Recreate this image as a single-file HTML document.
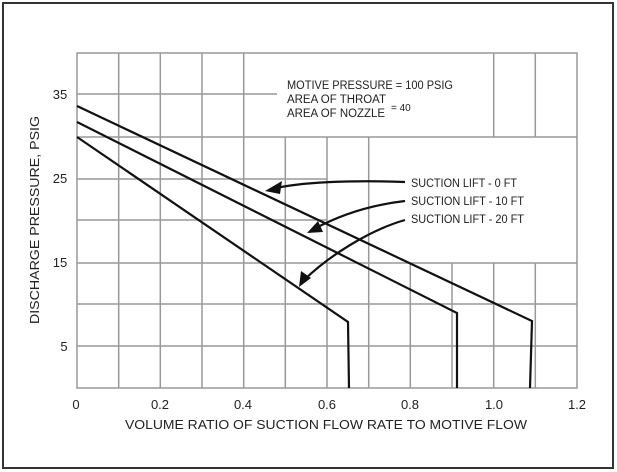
<!DOCTYPE html>
<html><head><style>body{margin:0;background:#fff}svg{display:block}</style></head><body>
<svg width="617" height="472" xmlns="http://www.w3.org/2000/svg" font-family="Liberation Sans, sans-serif">
<rect x="3" y="3" width="610" height="465" fill="#fff" stroke="#333" stroke-width="2"/>
<g stroke="#999" stroke-width="1.5" fill="none">
<line x1="118.7" y1="53" x2="118.7" y2="388"/>
<line x1="160.3" y1="53" x2="160.3" y2="388"/>
<line x1="202" y1="53" x2="202" y2="388"/>
<line x1="243.7" y1="53" x2="243.7" y2="388"/>
<line x1="285.3" y1="137" x2="285.3" y2="388"/>
<line x1="327" y1="137" x2="327" y2="388"/>
<line x1="368.7" y1="137" x2="368.7" y2="388"/>
<line x1="410.3" y1="263" x2="410.3" y2="388"/>
<line x1="452" y1="263" x2="452" y2="388"/>
<line x1="493.7" y1="53" x2="493.7" y2="137"/>
<line x1="493.7" y1="263" x2="493.7" y2="388"/>
<line x1="535.3" y1="53" x2="535.3" y2="137"/>
<line x1="535.3" y1="263" x2="535.3" y2="388"/>
<line x1="77" y1="94" x2="277" y2="94"/>
<line x1="77" y1="137" x2="577" y2="137"/>
<line x1="77" y1="179" x2="327" y2="179"/>
<line x1="77" y1="220" x2="327" y2="220"/>
<line x1="77" y1="263" x2="577" y2="263"/>
<line x1="77" y1="304" x2="577" y2="304"/>
<line x1="77" y1="346" x2="577" y2="346"/>
<rect x="77" y="53" width="500" height="335"/>
</g>
<g stroke="#111" stroke-width="2.2" fill="none">
<polyline points="77,106 532,321 530,388"/>
<polyline points="77,122 457,313 457,388"/>
<polyline points="77,137 348,322 349,388"/>
<path d="M405,182 C350,180 300,182 272,189"/>
<path d="M405,201 C370,205 340,215 314,229"/>
<path d="M405,220 C370,230 330,255 304,280"/>
</g>
<g fill="#111">
<polygon points="265,191 282,181 280,194"/>
<polygon points="307,233 318,221 323,232"/>
<polygon points="299,287 301,271 311,278"/>
</g>
<g font-size="11.5" fill="#222">
<text x="287" y="89" textLength="166" lengthAdjust="spacingAndGlyphs">MOTIVE PRESSURE = 100 PSIG</text>
<text x="287" y="103" textLength="99" lengthAdjust="spacingAndGlyphs">AREA OF THROAT</text>
<text x="287" y="117" textLength="98" lengthAdjust="spacingAndGlyphs">AREA OF NOZZLE</text>
<text x="391" y="111" font-size="10">= 40</text>
<text x="411" y="187" textLength="106" lengthAdjust="spacingAndGlyphs">SUCTION LIFT - 0 FT</text>
<text x="411" y="205" textLength="113" lengthAdjust="spacingAndGlyphs">SUCTION LIFT - 10 FT</text>
<text x="411" y="223" textLength="113" lengthAdjust="spacingAndGlyphs">SUCTION LIFT - 20 FT</text>
</g>
<g font-size="13" fill="#222" text-anchor="middle">
<text x="60" y="99">35</text>
<text x="60" y="183">25</text>
<text x="60" y="267">15</text>
<text x="64" y="351">5</text>
<text x="76" y="409">0</text>
<text x="160" y="409">0.2</text>
<text x="243" y="409">0.4</text>
<text x="327" y="409">0.6</text>
<text x="410" y="409">0.8</text>
<text x="494" y="409">1.0</text>
<text x="577" y="409">1.2</text>
<text x="326" y="429" textLength="402" lengthAdjust="spacingAndGlyphs">VOLUME RATIO OF SUCTION FLOW RATE TO MOTIVE FLOW</text>
<text transform="translate(39,220) rotate(-90)" textLength="208" lengthAdjust="spacingAndGlyphs">DISCHARGE PRESSURE, PSIG</text>
</g>
</svg>
</body></html>
